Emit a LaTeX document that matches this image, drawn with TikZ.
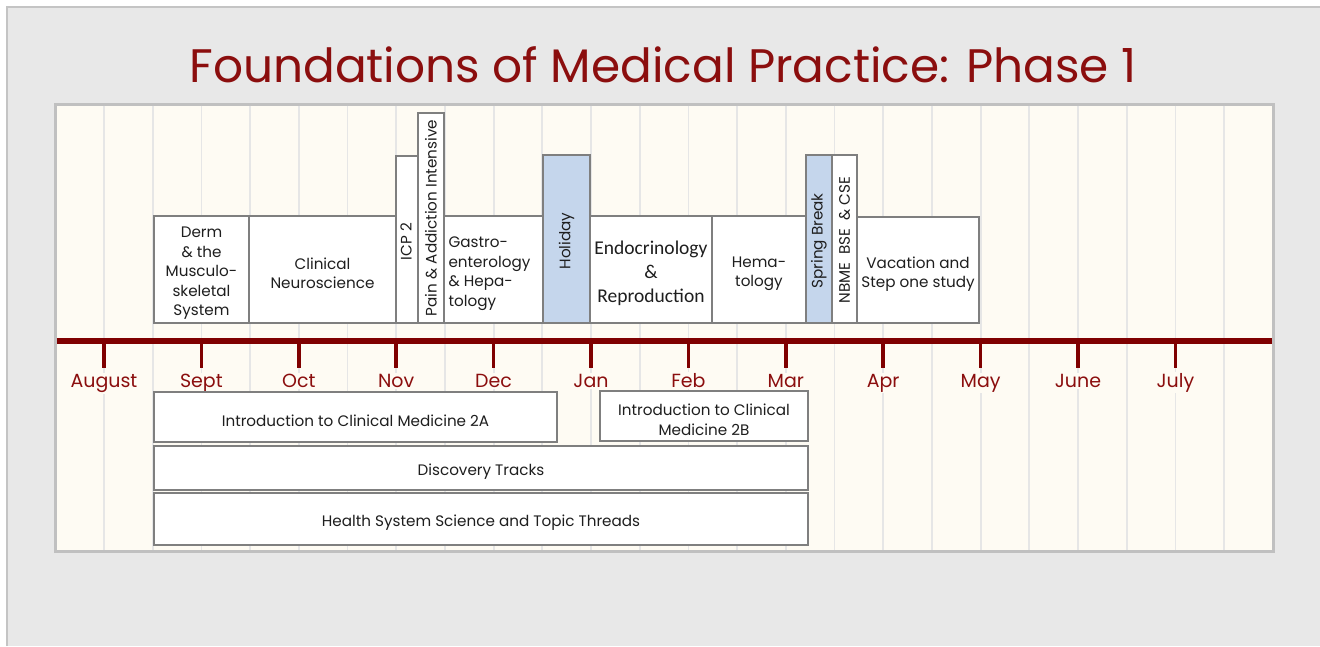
\documentclass[tikz,border=0pt]{standalone}
\usepackage{fontspec}
\setmainfont{Poppins}
\newfontfamily\calib{Carlito}
\definecolor{bgray}{HTML}{E8E8E8}
\definecolor{framegray}{HTML}{C4C4C4}
\definecolor{panelgray}{HTML}{C0C0C0}
\definecolor{cream}{HTML}{FEFBF3}
\definecolor{gridc}{HTML}{E6E6E6}
\definecolor{tlred}{HTML}{7F0000}
\definecolor{titlered}{HTML}{8B0E0E}
\definecolor{boxline}{HTML}{7F7F7F}
\definecolor{txt}{HTML}{1E1E1E}
\definecolor{holi}{HTML}{C5D6EC}
\begin{document}
\begin{tikzpicture}[x=1pt,y=-1pt,
  box/.style={draw=boxline, line width=1.3pt, fill=white, inner sep=0pt, text=txt},
  bluebox/.style={box, fill=holi},
  btext/.style={font=\fontsize{15.2}{19.5}\selectfont, text=txt, align=center, inner sep=0pt},
  ctext/.style={btext, yshift=-4pt},
  vtext/.style={btext, rotate=90},
  month/.style={font=\fontsize{19}{22}\selectfont, text=titlered, fill=cream, inner sep=1pt, anchor=base}
]
\useasboundingbox (0,0) rectangle (1320,646);
\fill[white] (0,0) rectangle (1320,646);
\fill[bgray] (7,7) rectangle (1320,646);
\draw[framegray, line width=2pt] (7,646) -- (7,7) -- (1320,7);
\node[font=\fontsize{47}{52}\selectfont, text=titlered] (title) at (663,65) {Foundations of Medical Practice: Phase 1};
% panel
\draw[fill=cream, draw=panelgray, line width=3pt] (55,104) rectangle (1273,551);
\foreach \k in {0,...,23} \draw[gridc, line width=1.8pt] ({104+48.7*\k},105.5) -- ({104+48.7*\k},549.5);
% timeline
\draw[tlred, line width=5.5pt] (56.5,341) -- (1271.5,341);
\foreach \m [count=\i from 0] in {August,Sept,Oct,Nov,Dec,Jan,Feb,Mar,Apr,May,June,July}{
  \draw[tlred, line width=3.5pt] ({104+97.4*\i},341) -- ({104+97.4*\i},368);
  \node[month] (m\i) at ({104+97.4*\i},387.5) {\m};
}
% upper boxes
\node[box, minimum width=95pt, minimum height=107pt] (derm) at (201.5,269.5) {};
\node[ctext] at (derm) {Derm\\ \& the\\ Musculo-\\ skeletal\\ System};
\node[box, minimum width=147pt, minimum height=107pt] (neuro) at (322.5,269.5) {};
\node[ctext] at (neuro) {Clinical\\Neuroscience};
\node[box, minimum width=22pt, minimum height=167pt] (icp) at (407,239.5) {};
\node[vtext] at ([yshift=-2pt,xshift=-1pt]icp.center) {ICP 2};
\node[box, minimum width=26pt, minimum height=210pt] (pain) at (431,218) {};
\node[vtext] at (pain) {Pain \& Addiction Intensive};
\node[box, minimum width=99pt, minimum height=107pt] (gastro) at (493.5,269.5) {};
\node[ctext, align=left, anchor=west] at ([xshift=5pt]gastro.west) {Gastro-\\enterology\\\& Hepa-\\tology};
\node[bluebox, minimum width=47pt, minimum height=168pt] (holiday) at (566.5,239) {};
\node[vtext] at ([yshift=-2pt]holiday.center) {Holiday};
\node[box, minimum width=122pt, minimum height=107pt] (endo) at (651,269.5) {};
\node[ctext, font=\calib\fontsize{19.5}{24}\selectfont] at (endo) {Endocrinology\\\&\\Reproduction};
\node[box, minimum width=94pt, minimum height=107pt] (hema) at (759,269.5) {};
\node[ctext] at (hema) {Hema-\\tology};
\node[bluebox, minimum width=26pt, minimum height=168pt] (spring) at (819,239) {};
\node[vtext] at ([yshift=-2pt]spring.center) {Spring Break};
\node[box, minimum width=25pt, minimum height=168pt] (nbme) at (844.5,239) {};
\node[vtext] at ([yshift=-1pt]nbme.center) {NBME\ \ BSE\ \ \& CSE};
\node[box, minimum width=122pt, minimum height=106pt] (vac) at (918,270) {};
\node[ctext] at (vac) {Vacation and\\Step one study};
% lower boxes
\node[box, minimum width=403pt, minimum height=50pt] (icma) at (355.5,417) {};
\node[ctext] at (icma) {Introduction to Clinical Medicine 2A};
\node[box, minimum width=208pt, minimum height=50pt] (icmb) at (704,416) {};
\node[ctext] at (icmb) {Introduction to Clinical\\Medicine 2B};
\node[box, minimum width=654pt, minimum height=44pt] (disc) at (481,468) {};
\node[ctext] at (disc) {Discovery Tracks};
\node[box, minimum width=654pt, minimum height=52pt] (hss) at (481,519) {};
\node[ctext] at (hss) {Health System Science and Topic Threads};
\end{tikzpicture}
\end{document}
